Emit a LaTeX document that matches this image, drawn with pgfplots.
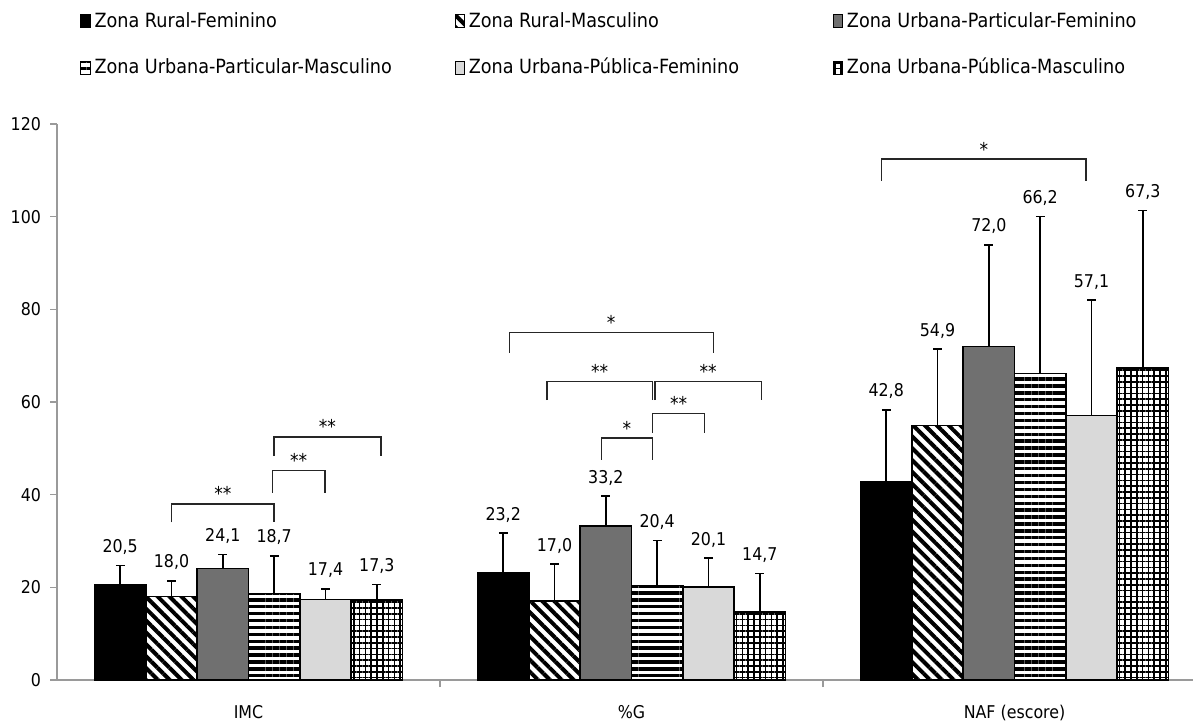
\documentclass[border=0pt]{standalone}
\usepackage{fontspec}
\setmainfont{DejaVu Sans Condensed}
\usepackage{pgfplots}
\usepackage{pgfplotstable}
\pgfplotsset{compat=1.18}
\usetikzlibrary{patterns.meta}

\pgfplotstableread{
x  v1   e1   v2   e2   v3   e3   v4   e4   v5   e5   v6   e6
0  20.5 4.2  18.0 3.4  24.1 3.0  18.7 8.1  17.4 2.3  17.3 3.3
1  23.2 8.5  17.0 8.0  33.2 6.5  20.4 9.7  20.1 6.2  14.7 8.3
2  42.8 15.5 54.9 16.5 72.0 21.9 66.2 33.8 57.1 24.9 67.3 34.0
}\datatable

\definecolor{darkg}{HTML}{707070}
\definecolor{lightg}{HTML}{D9D9D9}
\definecolor{axisg}{HTML}{9A9A9A}

\begin{document}
\begin{tikzpicture}
\begin{axis}[
  scale only axis,
  width=568pt, height=278pt,
  xmin=-0.5, xmax=2.466,
  ymin=0, ymax=120,
  axis x line=bottom, axis y line=left,
  axis line style={-, draw=axisg, line width=0.8pt},
  clip=false,
  ytick={0,20,...,120},
  tick align=outside,
  major tick length=3.5pt,
  tick style={draw=axisg, line width=0.8pt},
  xtick={0.5,1.5}, xticklabels={},
  extra x ticks={0,1,2},
  extra x tick labels={IMC,\%G,NAF (escore)},
  extra x tick style={major tick length=0pt, tick style={draw=none}},
  xticklabel style={font=\fontsize{8.8}{10}\selectfont, yshift=-9pt},
  yticklabel style={font=\fontsize{8.8}{10}\selectfont, xshift=-1pt},
  /pgf/number format/assume math mode=true,
  ybar, bar width=0.134,
  every axis plot/.append style={draw=black, line width=0.75pt},
  error bars/error bar style={draw=black, line width=0.8pt},
  error bars/error mark options={draw=black, line width=0.8pt, mark size=2.2pt, rotate=90},
  nodes near coords={\pgfmathprintnumber[fixed, fixed zerofill, precision=1, use comma]{\pgfplotspointmeta}},
  nodes near coords style={font=\fontsize{8.8}{10}\selectfont, black, anchor=base, inner sep=0pt,
     shift={(axis direction cs:0,\myerr)}, yshift=6.5pt},
  legend columns=3,
  legend cell align=left,
  legend style={at={(axis description cs:0.0202,1.2086)}, anchor=north west,
    draw=none, fill=none, inner sep=0pt, row sep=10pt,
    font=\fontsize{9.8}{11}\selectfont,
    /tikz/every even column/.append style={column sep=0pt}},
  legend image code/.code={\draw[#1, line width=0.5pt] (0pt,-3.3pt) rectangle (4.6pt,3.3pt);},
]
\addplot[fill=black, bar shift=-0.335, visualization depends on={\thisrow{e1} \as \myerr},
  error bars/.cd, y dir=plus, y explicit]
  table[x=x, y=v1, y error plus=e1] {\datatable};
\addlegendentry{\makebox[178pt][l]{Zona Rural-Feminino}}
\addplot[fill=white, pattern={Lines[angle=-45, distance=4.2pt, line width=2pt]}, bar shift=-0.201,
  visualization depends on={\thisrow{e2} \as \myerr},
  error bars/.cd, y dir=plus, y explicit]
  table[x=x, y=v2, y error plus=e2] {\datatable};
\addlegendentry{\makebox[180pt][l]{Zona Rural-Masculino}}
\addplot[fill=darkg, bar shift=-0.067, visualization depends on={\thisrow{e3} \as \myerr},
  error bars/.cd, y dir=plus, y explicit]
  table[x=x, y=v3, y error plus=e3] {\datatable};
\addlegendentry{Zona Urbana-Particular-Feminino}
\addplot[pattern={Lines[angle=0, distance=3.45pt, line width=1.7pt]}, bar shift=0.067,
  visualization depends on={\thisrow{e4} \as \myerr},
  error bars/.cd, y dir=plus, y explicit]
  table[x=x, y=v4, y error plus=e4] {\datatable};
\addlegendentry{\makebox[178pt][l]{Zona Urbana-Particular-Masculino}}
\addplot[fill=lightg, bar shift=0.201, visualization depends on={\thisrow{e5} \as \myerr},
  error bars/.cd, y dir=plus, y explicit]
  table[x=x, y=v5, y error plus=e5] {\datatable};
\addlegendentry{\makebox[180pt][l]{Zona Urbana-Pública-Feminino}}
\addplot[pattern={Hatch[angle=0, distance=2.9pt, line width=0.75pt]}, bar shift=0.335,
  visualization depends on={\thisrow{e6} \as \myerr},
  error bars/.cd, y dir=plus, y explicit]
  table[x=x, y=v6, y error plus=e6] {\datatable};
\addlegendentry{Zona Urbana-Pública-Masculino}

% significance brackets
\tikzset{br/.style={draw=black!85, line width=0.75pt}, st/.style={anchor=base, inner sep=0pt, font=\fontsize{9.5}{10}\selectfont, yshift=1.5pt}}
% IMC
\draw[br] (axis cs:-0.201,34.0) |- (axis cs:0.067,38.0) -- (axis cs:0.067,34.0);
\node[st] at (axis cs:-0.067,38.0) {**};
\draw[br] (axis cs:0.063,40.4) |- (axis cs:0.2,45.2) -- (axis cs:0.2,40.4);
\node[st] at (axis cs:0.131,45.2) {**};
\draw[br] (axis cs:0.067,48.3) |- (axis cs:0.346,52.5) -- (axis cs:0.346,48.3);
\node[st] at (axis cs:0.206,52.5) {**};
% %G
\draw[br] (axis cs:0.681,70.6) |- (axis cs:1.214,75.0) -- (axis cs:1.214,70.6);
\node[st] at (axis cs:0.947,75.0) {*};
\draw[br] (axis cs:0.779,60.4) |- (axis cs:1.055,64.4) -- (axis cs:1.055,60.4);
\node[st] at (axis cs:0.917,64.4) {**};
\draw[br] (axis cs:1.061,60.4) |- (axis cs:1.340,64.4) -- (axis cs:1.340,60.4);
\node[st] at (axis cs:1.20,64.4) {**};
\draw[br] (axis cs:1.055,53.4) |- (axis cs:1.190,57.5) -- (axis cs:1.190,53.4);
\node[st] at (axis cs:1.123,57.5) {**};
\draw[br] (axis cs:0.922,47.5) |- (axis cs:1.055,52.2) -- (axis cs:1.055,47.5);
\node[st] at (axis cs:0.988,52.2) {*};
% NAF
\draw[br] (axis cs:1.653,107.8) |- (axis cs:2.186,112.4) -- (axis cs:2.186,107.8);
\node[st] at (axis cs:1.92,112.4) {*};
\end{axis}
\pgfresetboundingbox
\useasboundingbox (-28.5pt,-22pt) rectangle (568pt,340pt);
\end{tikzpicture}
\end{document}
